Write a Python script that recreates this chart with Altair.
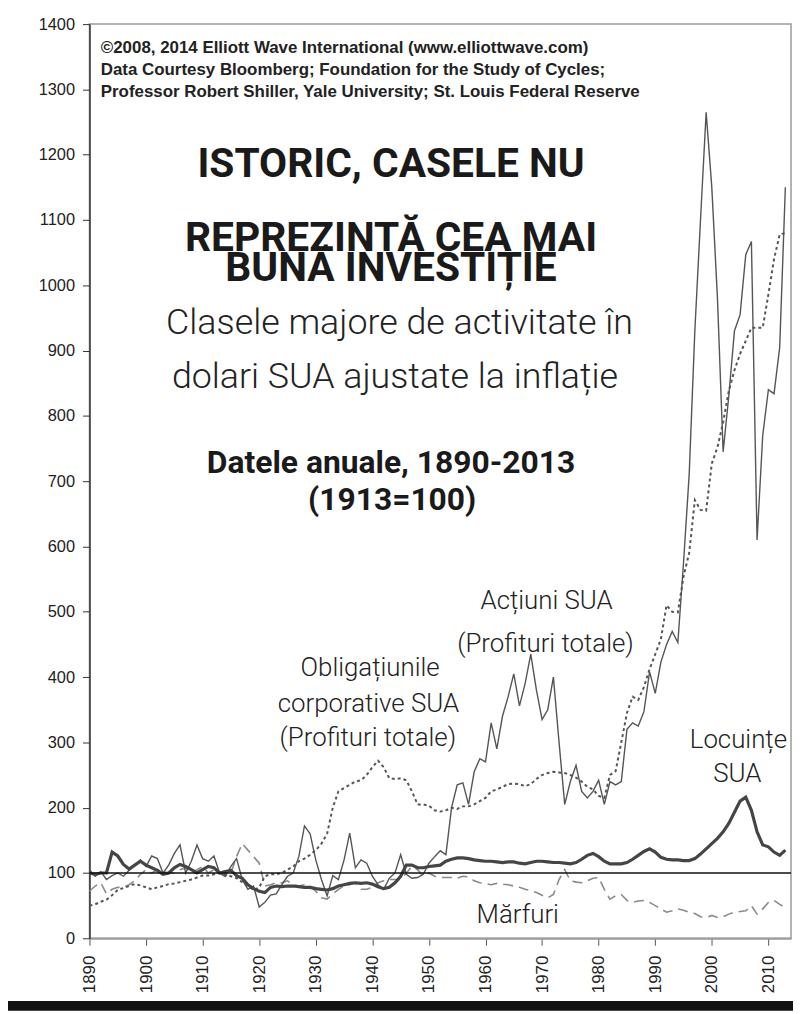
import altair as alt
import pandas as pd

years = list(range(1890, 2014))

stocks = [
    105, 95, 102, 90, 96, 100, 95, 104, 112, 120,
    110, 126, 122, 100, 112, 130, 143, 100, 118, 143,
    122, 118, 126, 100, 95, 110, 122, 90, 75, 80,
    48, 55, 66, 68, 82, 95, 100, 125, 172, 160,
    120, 90, 65, 96, 90, 120, 161, 108, 120, 115,
    95, 82, 75, 92, 100, 128, 98, 92, 93, 98,
    115, 125, 134, 128, 200, 235, 238, 205, 255, 275,
    270, 330, 290, 340, 370, 405, 356, 390, 435, 380,
    335, 350, 400, 300, 205, 240, 265, 225, 215, 225,
    242, 205, 240, 235, 240, 320, 330, 325, 347, 408,
    375, 423, 450, 470, 453, 575, 710, 930, 1100, 1265,
    1150, 980, 745, 830, 930, 955, 1047, 1067, 610, 770,
    840, 834, 905, 1150,
]

bonds = [
    50, 52, 56, 59, 66, 74, 77, 80, 83, 81,
    78, 75, 78, 80, 83, 84, 86, 88, 90, 93,
    96, 96, 98, 100, 98, 95, 92, 86, 80, 74,
    78, 95, 98, 98, 100, 105, 110, 118, 122, 128,
    135, 145, 160, 200, 225, 230, 235, 240, 242, 250,
    262, 272, 262, 245, 244, 245, 242, 225, 205, 205,
    203, 196, 194, 196, 200, 198, 202, 202, 205, 210,
    215, 225, 228, 232, 236, 237, 236, 233, 236, 244,
    250, 253, 255, 254, 253, 250, 246, 240, 232, 228,
    218, 215, 250, 256, 300, 345, 370, 365, 385, 412,
    435, 458, 510, 500, 499, 554, 590, 671, 656, 655,
    727, 752, 790, 838, 870, 895, 915, 935, 935, 935,
    986, 1040, 1078, 1080,
]

housing = [
    100, 98, 100, 100, 132, 126, 113, 106, 112, 118,
    112, 108, 104, 98, 100, 108, 113, 110, 105, 100,
    105, 110, 108, 100, 102, 104, 96, 92, 82, 76,
    72, 70, 78, 80, 79, 80, 80, 79, 78, 78,
    76, 75, 74, 76, 80, 82, 84, 85, 84, 85,
    83, 79, 76, 78, 85, 95, 112, 112, 108, 108,
    110, 111, 112, 118, 121, 123, 123, 122, 120, 119,
    118, 118, 117, 116, 117, 117, 115, 114, 116, 118,
    118, 117, 116, 116, 115, 114, 116, 121, 127, 130,
    125, 118, 114, 114, 114, 116, 121, 127, 133, 137,
    132, 124, 121, 120, 120, 119, 119, 122, 129, 137,
    145, 153, 163, 176, 193, 210, 216, 196, 163, 143,
    140, 132, 127, 135,
]

commodities = [
    72, 80, 85, 68, 75, 78, 78, 82, 88, 98,
    105, 100, 105, 102, 100, 100, 105, 108, 100, 105,
    110, 100, 105, 100, 95, 100, 125, 145, 135, 125,
    115, 80, 82, 85, 85, 88, 82, 80, 82, 80,
    72, 62, 60, 68, 75, 80, 82, 85, 75, 75,
    78, 85, 88, 90, 90, 90, 100, 110, 105, 95,
    100, 95, 93, 93, 93, 92, 95, 94, 88, 85,
    84, 82, 84, 83, 82, 80, 78, 75, 73, 70,
    66, 62, 67, 90, 105, 88, 86, 85, 88, 92,
    93, 75, 60, 65, 67, 58, 55, 57, 58, 55,
    50, 45, 40, 42, 45, 43, 40, 38, 33, 32,
    35, 32, 33, 37, 40, 41, 42, 50, 37, 45,
    55, 58, 52, 47,
]

x_ticks = list(range(1890, 2011, 10))
y_ticks = list(range(0, 1401, 100))

credit_lines = [
    "\u00a92008, 2014 Elliott Wave International (www.elliottwave.com)",
    "Data Courtesy Bloomberg; Foundation for the Study of Cycles;",
    "Professor Robert Shiller, Yale University; St. Louis Federal Reserve",
]
credit_x = [1892.0, 1892.0, 1892.0]
credit_y = [1356, 1322, 1289]

title_lines = ["ISTORIC, CASELE NU", "REPREZINT\u0102 CEA MAI", "BUN\u0102 INVESTI\u021aIE"]
title_x = [1943.3, 1943.3, 1943.3]
title_y = [1166, 1052, 1006]

subtitle_lines = ["Clasele majore de activitate \u00een", "dolari SUA ajustate la infla\u021bie"]
subtitle_x = [1944.8, 1944.0]
subtitle_y = [925, 843]

period_lines = ["Datele anuale, 1890-2013", "(1913=100)"]
period_x = [1943.3, 1943.5]
period_y = [712, 656]

label_lines = [
    "Ac\u021biuni SUA", "(Profituri totale)",
    "Obliga\u021biunile", "corporative SUA", "(Profituri totale)",
    "Locuin\u021be", "SUA",
    "M\u0103rfuri",
]
label_x = [1970.8, 1970.6, 1939.6, 1939.3, 1939.2, 2004.7, 2004.5, 1965.7]
label_y = [504, 438, 402, 347, 294, 291, 239, 24]

df = pd.DataFrame({
    "year": years,
    "stocks": stocks,
    "bonds": bonds,
    "housing": housing,
    "commodities": commodities,
})

xscale = alt.Scale(domain=[1890, 2014], nice=False, zero=False)
yscale = alt.Scale(domain=[0, 1400], nice=False, zero=True)

xaxis = alt.Axis(values=x_ticks, format="d", labelAngle=270, tickSize=7,
                 labelPadding=10, domainColor="#9a9a9a", domainWidth=2,
                 tickColor="#555", grid=False, title=None, labelFontSize=17)
yaxis = alt.Axis(values=y_ticks, format="d", tickSize=7, labelPadding=8,
                 domainColor="#333", domainWidth=1.5, tickColor="#333",
                 grid=False, title=None)


def X(field):
    return alt.X(f"{field}:Q", scale=xscale, axis=xaxis, title=None)


def Y(field):
    return alt.Y(f"{field}:Q", scale=yscale, axis=yaxis, title=None)


base = alt.Chart(df)

commod_line = base.mark_line(color="#8a8a8a", strokeWidth=1.6, strokeDash=[10, 6]).encode(
    x=X("year"), y=Y("commodities"))
bonds_line = base.mark_line(color="#555", strokeWidth=2, strokeDash=[3, 3]).encode(
    x=X("year"), y=Y("bonds"))
stocks_line = base.mark_line(color="#555", strokeWidth=1.4).encode(
    x=X("year"), y=Y("stocks"))
housing_line = base.mark_line(color="#454545", strokeWidth=3.2).encode(
    x=X("year"), y=Y("housing"))

ref = alt.Chart(pd.DataFrame({"v": [100]})).mark_rule(color="#111", strokeWidth=1.5).encode(
    y=Y("v"))


def text_layer(lines, xs, ys, **kw):
    d = pd.DataFrame({"tx": xs, "ty": ys, "t": lines})
    return alt.Chart(d).mark_text(baseline="alphabetic", **kw).encode(
        x=X("tx"), y=Y("ty"), text="t:N")


credits = text_layer(credit_lines, credit_x, credit_y, align="left",
                     font="Liberation Sans", fontSize=17, fontWeight="bold", color="#222")
titles = text_layer(title_lines, title_x, title_y, align="center",
                    font="Roboto", fontSize=41, fontWeight="bold", color="#1a1a1a")
subtitles = text_layer(subtitle_lines, subtitle_x, subtitle_y, align="center",
                       font="Roboto", fontSize=36, fontWeight=300, color="#222")
periods = text_layer(period_lines, period_x, period_y, align="center",
                     font="Roboto", fontSize=32, fontWeight="bold", color="#1a1a1a")
labels = text_layer(label_lines, label_x, label_y, align="center",
                    font="Roboto", fontSize=26, fontWeight=300, color="#222")

bar = alt.Chart(pd.DataFrame({"k": [0]})).mark_rect(color="#111").encode(
    x=alt.value(-82), x2=alt.value(708), y=alt.value(983), y2=alt.value(993))

chart = alt.layer(
    commod_line, bonds_line, stocks_line, housing_line, ref,
    credits, titles, subtitles, periods, labels, bar,
).properties(
    width=706, height=920,
    autosize=alt.AutoSizeParams(type="none"),
    padding={"left": 82, "top": 13, "right": 2, "bottom": 73},
    background="white",
).configure_view(
    stroke="#9a9a9a", strokeWidth=1.5
).configure_axis(
    labelFont="Liberation Sans", labelFontSize=16.5, labelColor="#222"
)

chart.save("out.html", embed_options={"renderer": "svg", "actions": False})
